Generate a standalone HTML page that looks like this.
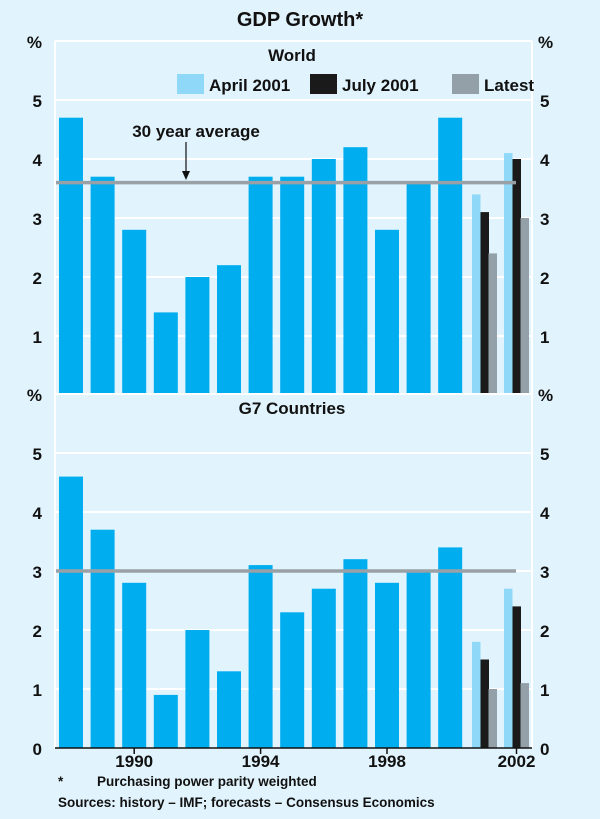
<!DOCTYPE html>
<html><head><meta charset="utf-8"><style>
body{margin:0;background:#e1f3fc;}
svg{display:block;font-family:"Liberation Sans",sans-serif;font-weight:bold;}
</style></head><body>
<svg id="c" width="600" height="819" xmlns="http://www.w3.org/2000/svg">
<rect width="600" height="819" fill="#e1f3fc"/>
<text x="300" y="26" font-size="20" text-anchor="middle" fill="#111">GDP Growth*</text>
<g id="g"></g>
<text x="58" y="786" font-size="13.5" fill="#111">*</text>
<text x="97" y="786" font-size="13.5" fill="#111">Purchasing power parity weighted</text>
<text x="58" y="807" font-size="13.5" fill="#111">Sources: history – IMF; forecasts – Consensus Economics</text>
</svg>
<script>
const years=[1988,1989,1990,1991,1992,1993,1994,1995,1996,1997,1998,1999,2000];
const worldHist=[4.7,3.7,2.8,1.4,2.0,2.2,3.7,3.7,4.0,4.2,2.8,3.6,4.7];
const worldApr=[3.4,4.1];
const worldJul=[3.1,4.0];
const worldLatest=[2.4,3.0];
const worldAvg=3.6;
const g7Hist=[4.6,3.7,2.8,0.9,2.0,1.3,3.1,2.3,2.7,3.2,2.8,3.0,3.4];
const g7Apr=[1.8,2.7];
const g7Jul=[1.5,2.4];
const g7Latest=[1.0,1.1];
const g7Avg=3.0;
const yTicks=[1,2,3,4,5];
const xLabels=[1990,1994,1998,2002];

const NS="http://www.w3.org/2000/svg";
const G=document.getElementById('g');
function el(t,a,txt){const e=document.createElementNS(NS,t);for(const k in a)e.setAttribute(k,a[k]);if(txt!==undefined)e.textContent=txt;G.appendChild(e);return e;}
const L=55,R=532,U=59;
function xBar(i){return 59+i*31.6;}
function xFc(j){return 472+j*32;}
function panel(zero,hist,apr,jul,lat,avg,title,pfx,showX){
  const y=v=>zero-v*U, top=zero-6*U;
  let e=el('line',{x1:L,y1:top,x2:R,y2:top,stroke:'#fff','stroke-width':2});
  
  yTicks.forEach(t=>{
    e=el('line',{x1:L,y1:y(t),x2:R,y2:y(t),stroke:'#fff','stroke-width':2});
    
    e=el('text',{x:42,y:y(t)+7,'font-size':17,'text-anchor':'end',fill:'#111'},t);
    
    e=el('text',{x:540,y:y(t)+7,'font-size':17,fill:'#111'},t);
    
  });
  e=el('text',{x:42,y:top+7,'font-size':17,'text-anchor':'end',fill:'#111'},'%');
  
  e=el('text',{x:538,y:top+7,'font-size':17,fill:'#111'},'%');
  
  e=el('line',{x1:L,y1:top,x2:L,y2:zero,stroke:'#fff','stroke-width':2});
  
  e=el('line',{x1:R,y1:top,x2:R,y2:zero,stroke:'#fff','stroke-width':2});
  
  hist.forEach((v,i)=>{
    e=el('rect',{x:xBar(i),y:y(v),width:24,height:v*U,fill:'#00adef'});
    
  });
  [[apr,'#8fd8f7',0],[jul,'#1a1a1a',8.5],[lat,'#93a0a8',16.5]].forEach(([arr,c,off],k)=>{
    arr.forEach((v,j)=>{
      e=el('rect',{x:xFc(j)+off,y:y(v),width:8.5,height:v*U,fill:c});
      
      
    });
  });
  e=el('line',{x1:L+1,y1:y(avg),x2:516,y2:y(avg),stroke:'#99a1a6','stroke-width':3.5});
  
  e=el('text',{x:292,y:top+20,'font-size':17,'text-anchor':'middle',fill:'#111'},title);
  
  if(showX){
    e=el('text',{x:42,y:zero+7,'font-size':17,'text-anchor':'end',fill:'#111'},0);
    
    e=el('text',{x:540,y:zero+7,'font-size':17,fill:'#111'},0);
    
    e=el('line',{x1:L,y1:zero,x2:R,y2:zero,stroke:'#111','stroke-width':1.5});
    
    xLabels.forEach(yr=>{
      const i=yr-1988;
      const cx=yr<=2000?xBar(i)+12:xFc(yr-2001)+12.5;
      e=el('line',{x1:cx,y1:zero,x2:cx,y2:zero+6,stroke:'#111','stroke-width':1.5});
      
      e=el('text',{x:cx,y:zero+19,'font-size':17,'text-anchor':'middle',fill:'#111'},yr);
      
    });
  }
}
panel(395,worldHist,worldApr,worldJul,worldLatest,worldAvg,'World','world',false);
panel(748,g7Hist,g7Apr,g7Jul,g7Latest,g7Avg,'G7 Countries','g7',true);
const leg=[['April 2001','#8fd8f7',177],['July 2001','#1a1a1a',310],['Latest','#93a0a8',452]];
leg.forEach(([t,c,x])=>{
  let e=el('rect',{x:x,y:74,width:27,height:20,fill:c});
  
  
  e=el('text',{x:x+32,y:91,'font-size':17,fill:'#111'},t);
  
  
});
let a=el('text',{x:196,y:137,'font-size':17,'text-anchor':'middle',fill:'#111'},'30 year average');


a=el('line',{x1:186,y1:142,x2:186,y2:176,stroke:'#111','stroke-width':1.2});


a=el('path',{d:'M182,171 L186,180 L190,171 Z',fill:'#111'});


</script>
</body></html>
